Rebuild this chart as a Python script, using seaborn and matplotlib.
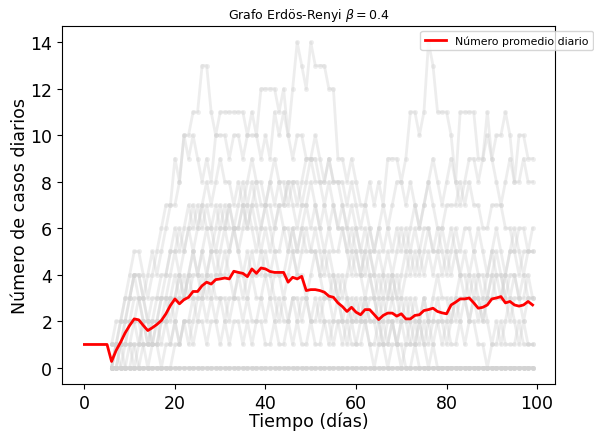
import numpy as np
import pandas as pd
import matplotlib
matplotlib.use("Agg")
import matplotlib.pyplot as plt
import seaborn as sns

# Daily mean (red line), days 0..99
dias = list(range(100))
promedio = [1, 1, 1, 1, 1, 1, 0.27, 0.74, 1.1, 1.5,
            1.82, 2.1, 2.06, 1.82, 1.6, 1.72, 1.86, 2.03, 2.32, 2.68,
            2.96, 2.75, 2.93, 3.03, 3.28, 3.28, 3.53, 3.68, 3.6, 3.79,
            3.82, 3.86, 3.82, 4.15, 4.1, 4.06, 3.92, 4.25, 4.06, 4.29,
            4.25, 4.14, 4.1, 4.1, 4.1, 3.68, 3.89, 3.82, 3.93, 3.32,
            3.36, 3.36, 3.32, 3.25, 3.08, 3.03, 2.79, 2.63, 2.42, 2.6,
            2.39, 2.28, 2.5, 2.5, 2.29, 2.07, 2.25, 2.35, 2.35, 2.22,
            2.32, 2.1, 2.1, 2.25, 2.28, 2.46, 2.5, 2.56, 2.42, 2.36,
            2.32, 2.7, 2.82, 2.96, 2.96, 3.0, 2.79, 2.56, 2.6, 2.7,
            2.96, 3.0, 3.06, 2.79, 2.85, 2.7, 2.65, 2.7, 2.85, 2.7]

# Individual simulations (gray), days 6..99
dias_sim = list(range(6, 100))
sim_01 = [1,2,2,3,4,5,5,4,3,4, 5,6,7,7,9,8,10,10,11,11, 13,13,11,10,11,11,11,11,11,11,
          10,11,10,12,12,12,12,11,12,10, 12,14,13,12,14,13,13,13,12,12, 9,9,8,9,8,7,7,8,7,8,
          7,9,9,9,8,9,11,11,10,11, 14,13,11,11,11,10,8,11,11,11, 11,9,9,11,9,10,10,11,10,8, 10,10,9,9]
sim_02 = [0,1,1,2,3,4,4,3,4,5, 4,5,6,7,7,8,10,9,10,9, 8,9,8,10,10,10,9,10,10,9,
          10,10,10,9,10,9,11,10,11,10, 9,10,10,9,9,10,9,8,9,8, 8,7,6,7,6,5,6,5,4,5,
          4,3,4,3,2,3,2,1,2,1, 0,1,0,0,0,0,0,0,0,0, 0,0,0,0,0,0,0,0,0,0, 0,0,0,0]
sim_03 = [0,0,1,1,2,2,3,3,2,2, 3,3,4,5,5,6,5,6,7,6, 7,8,7,8,9,8,8,7,8,7,
          8,9,8,8,7,8,9,8,8,7, 8,8,7,8,9,8,8,7,8,7, 6,7,6,5,6,5,4,5,4,3,
          4,5,4,5,6,5,6,7,6,7, 8,7,6,6,7,7,7,8,7,8, 7,7,6,6,7,7,7,6,6,5, 6,6,5,6]
sim_04 = [1,1,0,0,0,0,0,0,0,0, 0,0,0,0,1,1,2,1,2,3, 3,4,5,4,5,6,5,6,6,7,
          6,7,6,5,6,5,6,7,6,5, 6,5,6,7,6,7,6,5,6,5, 5,6,5,4,5,4,5,6,5,6,
          7,6,7,8,8,7,8,7,6,7, 8,9,8,7,8,9,8,7,8,9, 9,8,9,10,9,8,7,8,9,8, 8,9,8,8]
sim_05 = [0,1,2,2,3,4,3,2,1,2, 2,3,3,4,5,4,5,6,5,6, 7,6,6,7,6,7,6,6,5,6,
          7,6,5,6,7,6,5,5,6,6, 5,4,5,6,5,5,4,5,4,3, 4,3,4,5,4,4,3,4,3,2,
          3,2,3,4,3,4,5,4,5,6, 6,5,6,5,4,5,6,5,6,6, 5,6,5,4,5,4,3,4,5,5, 4,5,5,5]
sim_06 = [0,1,1,2,2,3,3,2,2,1, 2,1,2,3,3,4,3,4,5,4, 5,4,5,5,4,4,5,6,5,4,
          5,4,4,5,4,3,4,4,3,4, 5,4,4,3,4,5,4,3,3,4, 3,2,3,2,2,3,2,3,3,2,
          1,2,2,1,2,1,2,3,2,3, 2,3,4,3,3,2,3,4,4,3, 4,3,2,3,3,4,4,3,2,3, 3,2,3,3]
sim_07 = [0,1,1,1,2,2,1,2,2,1, 1,2,2,3,2,3,3,4,3,3, 4,3,4,3,3,2,3,3,4,4,
          3,4,3,3,4,4,3,2,3,2, 3,3,2,3,2,2,3,2,1,2, 2,1,2,1,1,2,2,1,0,1,
          1,0,1,1,0,1,1,2,1,2, 1,2,2,1,2,1,1,2,1,2, 2,1,1,0,1,1,2,1,1,1, 2,1,1,1]
sim_08 = [0] * 94
sim_09 = [0,0,0,1,1,2,2,1,1,1, 2,2,3,3,4,3,4,3,4,4, 3,4,3,4,4,5,4,3,4,3,
          4,5,4,4,5,4,5,4,4,5, 6,5,6,5,5,6,5,4,5,4, 3,4,3,2,3,2,3,2,2,1,
          2,1,2,1,1,0,0,1,0,0, 0,0,0,0,0,0,0,0,0,0, 0,0,0,0,0,0,0,0,0,0, 0,0,0,0]
sim_10 = [0,0,0,0,0,0,0,1,1,1, 1,2,2,1,2,1,2,2,3,2, 3,2,3,2,3,3,2,3,3,2,
          3,2,2,3,2,3,2,3,2,2, 3,2,3,3,2,3,2,3,3,2, 3,2,2,3,2,2,3,2,2,3,
          2,3,4,3,4,5,4,5,4,5, 6,5,5,6,5,6,5,4,5,4, 5,4,3,4,5,6,5,4,5,6, 5,4,5,5]
sim_11 = [1,1,2,3,3,4,4,3,2,3, 3,4,4,5,6,5,6,7,6,7, 6,7,6,5,6,6,7,6,7,8,
          7,8,7,6,7,7,6,7,7,8, 7,6,7,7,8,7,6,7,6,7, 6,6,5,6,5,4,5,4,3,4,
          3,4,3,2,3,2,3,2,2,3, 2,1,2,2,1,2,3,2,3,2, 3,2,3,2,1,2,1,2,3,2, 1,2,1,1]
sim_12 = [0,0,0,0,1,1,0,0,0,0] + [0] * 84
sim_13 = [0,0,1,1,1,0,1,1,0,1, 1,0,1,1,2,1,2,2,1,2, 2,1,2,2,1,2,1,2,2,1,
          2,1,2,2,1,1,2,1,1,2, 1,2,1,1,2,1,1,2,2,1, 2,2,1,2,1,1,2,1,1,2,
          1,1,2,1,2,2,1,1,2,1, 2,2,3,2,2,3,2,3,3,2, 3,3,2,3,4,3,3,4,3,4, 3,4,3,3]
sim_14 = [0,0,0,0,0,1,1,2,1,2, 2,3,3,2,3,4,3,4,5,4, 5,6,5,6,7,6,7,6,6,7,
          6,7,8,7,7,8,7,8,7,8, 8,7,8,9,9,9,8,8,9,8, 8,8,7,8,7,6,7,6,5,6,
          5,6,5,6,5,6,5,6,5,4, 5,4,5,4,5,4,5,4,3,4, 3,4,4,3,4,5,4,3,4,4, 3,3,4,3]
sim_15 = [1,1,1,0,0,0,0,0,0,0] + [0] * 84

simulaciones = [sim_01, sim_02, sim_03, sim_04, sim_05, sim_06, sim_07, sim_08,
                sim_09, sim_10, sim_11, sim_12, sim_13, sim_14, sim_15]

df = pd.DataFrame({
    "t": np.tile(dias_sim, len(simulaciones)),
    "casos": np.concatenate([np.array(s, dtype=float) for s in simulaciones]),
    "sim": np.repeat(np.arange(len(simulaciones)), len(dias_sim)),
})

fig = plt.figure(figsize=(5.94, 4.35), dpi=100)
ax = fig.add_axes([62 / 594, 50 / 435, 493 / 594, 358 / 435])

sns.lineplot(data=df, x="t", y="casos", units="sim", estimator=None,
             color="lightgray", alpha=0.4, linewidth=2, marker="o",
             markersize=3.5, markeredgewidth=0, ax=ax, legend=False)
sns.lineplot(x=dias, y=promedio, color="red", linewidth=2,
             label="Número promedio diario", ax=ax)

ax.set_xticks([0, 20, 40, 60, 80, 100])
ax.set_yticks([0, 2, 4, 6, 8, 10, 12, 14])
ax.tick_params(labelsize=12.5)
ax.set_xlabel("Tiempo (días)", fontsize=12.5, labelpad=0)
ax.set_ylabel("Número de casos diarios", fontsize=12.5, labelpad=1)
ax.set_title(r"Grafo Erdös-Renyi $\beta = 0.4$", fontsize=9)
ax.legend(loc="upper right", bbox_to_anchor=(1.077, 0.986), borderaxespad=0,
          fontsize=7.8)

fig.savefig("out.png", dpi=100)
